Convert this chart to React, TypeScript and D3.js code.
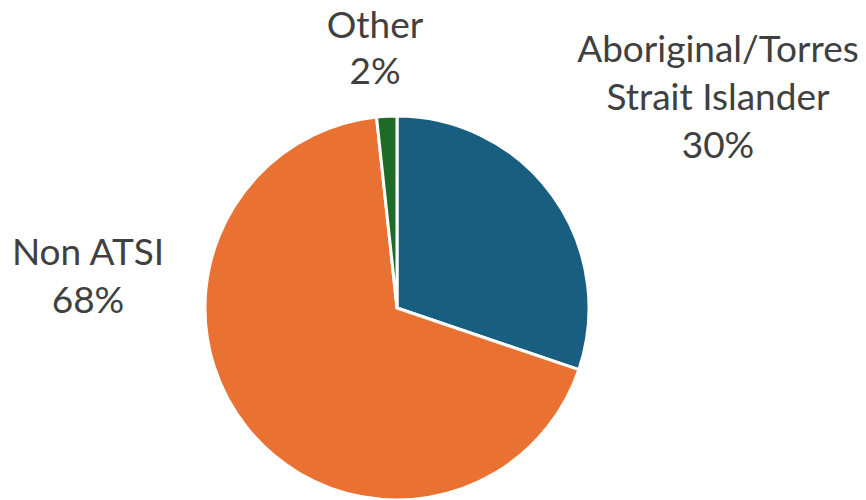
import { useMemo } from 'react';
import * as d3 from 'd3';

const categories = ['Aboriginal/Torres Strait Islander', 'Non ATSI', 'Other'];
const values = [30.2, 68.1, 1.7];
const labelLines = [
  ['Aboriginal/Torres', 'Strait Islander', '30%'],
  ['Non ATSI', '68%'],
  ['Other', '2%'],
];
const colors = ['#175E80', '#E97132', '#1D6B27'];

const width = 866;
const height = 500;
const cx = 397;
const cy = 308;
const radius = 192;

// label anchor points (center x, first baseline y)
const labelPos: [number, number][] = [
  [718, 62],
  [88, 265],
  [375, 38],
];

export default function App(): React.ReactNode {
  const arcs = useMemo(() => {
    const pie = d3
      .pie<number>()
      .sort(null)
      .value((d) => d);
    return pie(values);
  }, []);
  const arc = d3.arc<d3.PieArcDatum<number>>().innerRadius(0).outerRadius(radius);

  return (
    <svg
      width={width}
      height={height}
      style={{ position: 'absolute', left: 0, top: 0 }}
      fontFamily="Lato, 'Open Sans', sans-serif"
    >
      <g transform={`translate(${cx},${cy})`}>
        {arcs.map((a, i) => (
          <path
            key={categories[i]}
            d={arc(a) ?? ''}
            fill={colors[i]}
            stroke="#fff"
            strokeWidth={3}
            strokeLinejoin="round"
          />
        ))}
      </g>
      {labelLines.map((lines, i) => (
        <text
          key={categories[i]}
          x={labelPos[i][0]}
          y={labelPos[i][1]}
          textAnchor="middle"
          fontSize={37}
          fill="#404040"
        >
          {lines.map((l, j) => (
            <tspan key={j} x={labelPos[i][0]} dy={j === 0 ? 0 : i === 2 ? 46 : 48}>
              {l}
            </tspan>
          ))}
        </text>
      ))}
    </svg>
  );
}
